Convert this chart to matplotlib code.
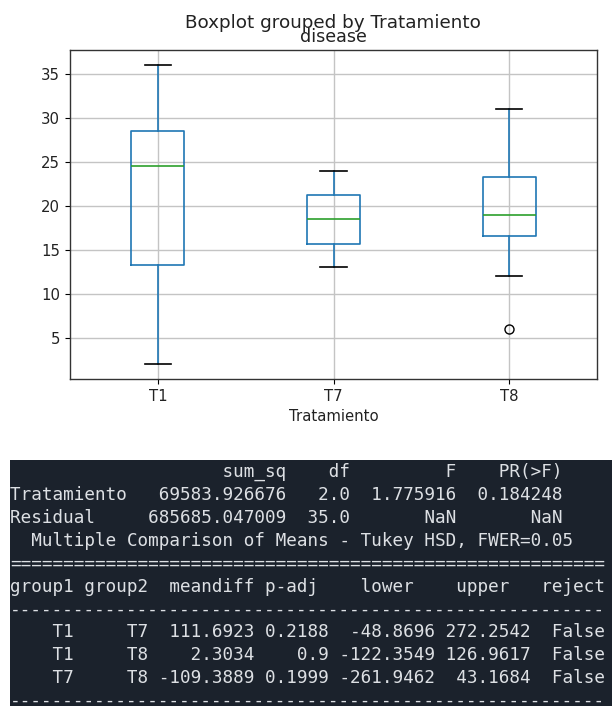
import numpy as np
import matplotlib
matplotlib.use("Agg")
import matplotlib.pyplot as plt

# box statistics
groups = ["T1", "T7", "T8"]
whislo = [2.0, 13.0, 12.0]
q1 = [13.3, 15.7, 16.55]
med = [24.5, 18.45, 19.0]
q3 = [28.5, 21.2, 23.3]
whishi = [36.0, 24.0, 31.0]
fliers = [[], [], [6.0]]

# anova table
terms = ["Tratamiento", "Residual"]
sum_sq = [69583.926676, 685685.047009]
df = [2.0, 35.0]
F = [1.775916, np.nan]
pr_f = [0.184248, np.nan]

# tukey hsd table
group1 = ["T1", "T1", "T7"]
group2 = ["T7", "T8", "T8"]
meandiff = [111.6923, 2.3034, -109.3889]
p_adj = [0.2188, 0.9, 0.1999]
lower = [-48.8696, -122.3549, -261.9462]
upper = [272.2542, 126.9617, 43.1684]
reject = [False, False, False]

W, H = 612, 706
fig = plt.figure(figsize=(W / 100, H / 100), dpi=100)

ax = fig.add_axes([70 / W, 1 - 379 / H, 527 / W, 329 / H])
stats = []
for i in range(len(groups)):
    stats.append(dict(label=groups[i], whislo=whislo[i], q1=q1[i], med=med[i],
                      q3=q3[i], whishi=whishi[i], fliers=fliers[i]))
ax.bxp(stats, widths=0.3,
       boxprops=dict(color="#1f77b4", linewidth=1.2),
       whiskerprops=dict(color="#1f77b4", linewidth=1.2),
       capprops=dict(color="black", linewidth=1.2),
       medianprops=dict(color="#2ca02c", linewidth=1.2),
       flierprops=dict(marker="o", markeredgecolor="black", markerfacecolor="none",
                       markersize=6.5))
ax.grid(True, color="#c4c4c4", linewidth=1.0)
ax.set_axisbelow(True)
for s in ax.spines.values():
    s.set_linewidth(1.0)
    s.set_color("#333333")
ax.set_ylim(0.3, 37.7)
ax.set_yticks([5, 10, 15, 20, 25, 30, 35])
ax.set_xlabel("Tratamiento", fontsize=10.7, color="#222222")
ax.set_title("disease", fontsize=12.6, pad=6, color="#222222")
ax.tick_params(labelsize=10.7, labelcolor="#222222")
# pandas centres the suptitle over the axes here
fig.suptitle("Boxplot grouped by Tratamiento", fontsize=13.2, x=333 / W, y=1 - 23 / H,
             va="center", color="#222222")


def fmt(v, w, d):
    if np.isnan(v):
        return "NaN".rjust(w)
    return f"{v:{w}.{d}f}"


lines = [" " * 13 + "sum_sq".rjust(13) + "  " + "df".rjust(4) + "  " + "F".rjust(8) + "  " + "PR(>F)".rjust(8)]
for i in range(len(terms)):
    lines.append(f"{terms[i]:<11}  {fmt(sum_sq[i], 13, 6)}  {fmt(df[i], 4, 1)}  "
                 f"{fmt(F[i], 8, 6)}  {fmt(pr_f[i], 8, 6)}")
lines.append("  Multiple Comparison of Means - Tukey HSD, FWER=0.05")
lines.append("=" * 56)
lines.append("group1 group2  meandiff p-adj    lower    upper   reject")
lines.append("-" * 56)
for i in range(len(group1)):
    lines.append(f"{group1[i]:>6} {group2[i]:>6} {str(meandiff[i]):>9} {str(p_adj[i]):>6} "
                 f"{str(lower[i]):>9} {str(upper[i]):>8} {str(reject[i]):>6}")
lines.append("-" * 56)

term = fig.add_axes([10 / W, 0, (W - 10) / W, (H - 460) / H], facecolor="#1b222c")
term.set_xlim(0, W - 10)
term.set_ylim(H - 460, 0)
term.set_xticks([])
term.set_yticks([])
for s in term.spines.values():
    s.set_visible(False)
for i, line in enumerate(lines):
    term.text(0, 477.0 + 22.9 * i - 460, line, family="DejaVu Sans Mono", fontsize=12.7,
              color="#dde0e4", va="baseline", ha="left")

fig.savefig("out.png", dpi=100)
